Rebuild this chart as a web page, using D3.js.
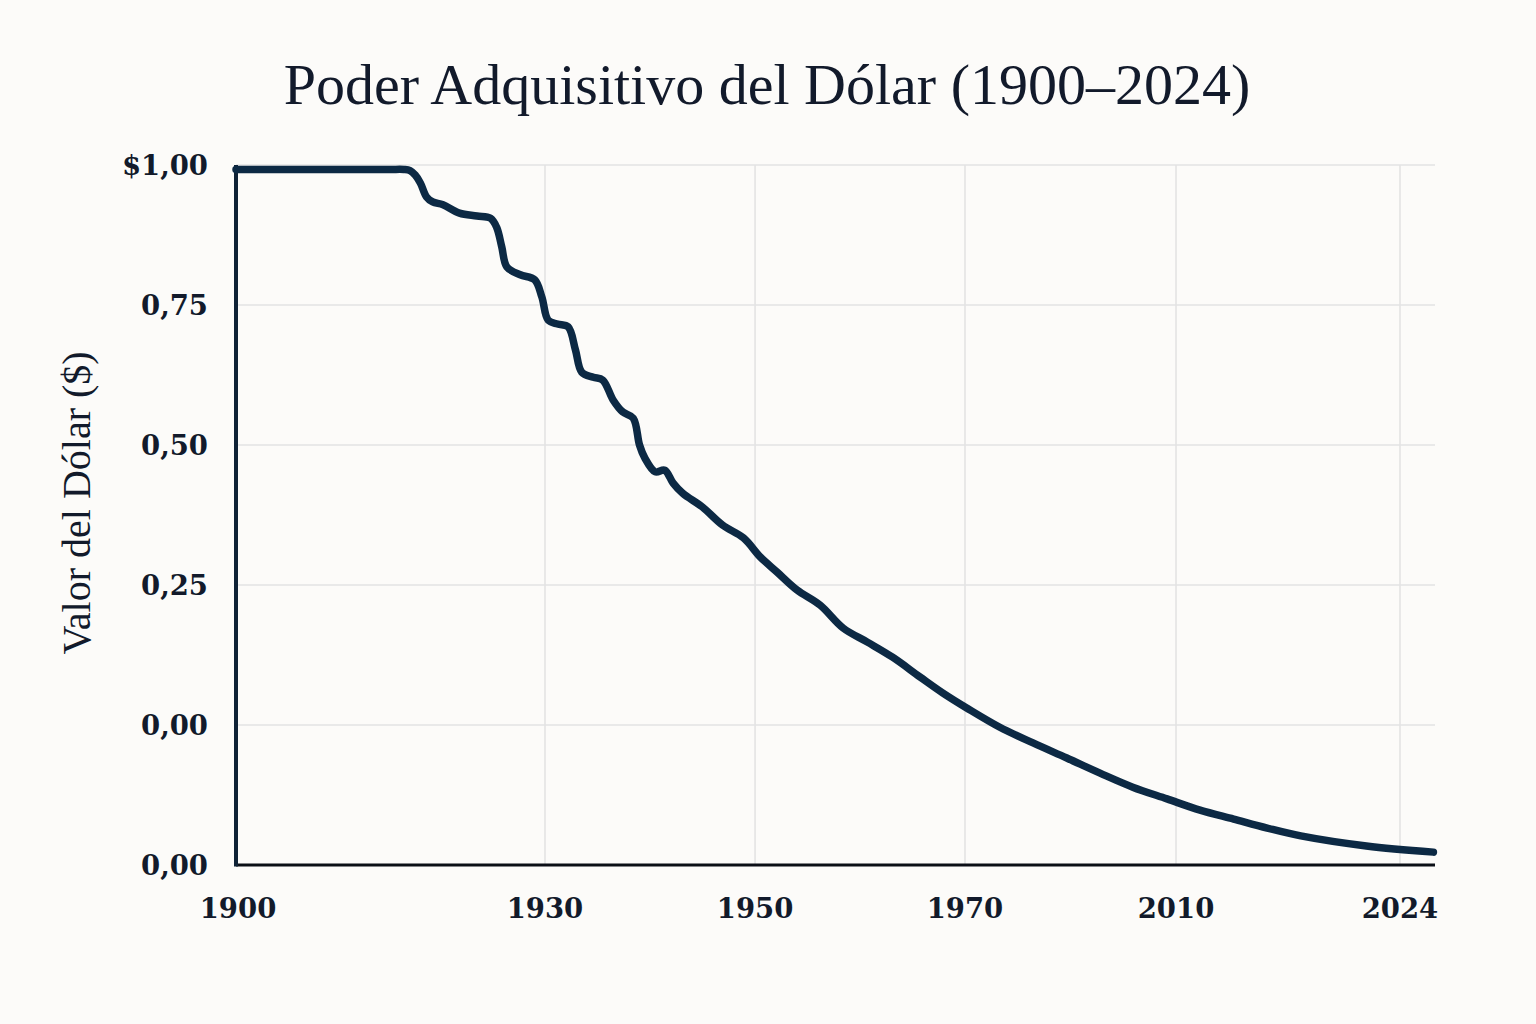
<!DOCTYPE html>
<html>
<head>
<meta charset="utf-8">
<script src="https://cdn.jsdelivr.net/npm/d3@7"></script>
<style>
  html, body { margin: 0; padding: 0; background: #fcfbf9; }
  svg { display: block; }
</style>
</head>
<body>
<div id="chart"></div>
<script>
// data (year, dollar value)
const years = [1900, 1904, 1908, 1912, 1915, 1916.3, 1916.9, 1917.4, 1917.9, 1918.5, 1919.1,
  1920.1, 1921.7, 1923.4, 1924.7,
  1925.3, 1925.8, 1926.3, 1927.6, 1929.0, 1929.7, 1930.3, 1931.2, 1932.2, 1932.9,
  1933.5, 1934.6, 1935.5, 1936.5, 1937.4, 1938.4, 1939.0, 1939.5, 1940.5, 1941.4,
  1942.2, 1943.1, 1945.0, 1946.9, 1948.9, 1950.5, 1952.1, 1954.0, 1956.2, 1958.4,
  1960.7, 1963.1, 1965.7, 1967.9, 1970.4, 1976.6, 1982.9, 1989.3, 1995.6, 2001.8,
  2008.3, 2011.5, 2013.6, 2015.7, 2017.8, 2021.9, 2026.1];
const values = [0.992, 0.992, 0.992, 0.992, 0.992, 0.992, 0.990, 0.982, 0.968, 0.943, 0.934,
  0.929, 0.914, 0.909, 0.905,
  0.889, 0.854, 0.818, 0.804, 0.795, 0.764, 0.723, 0.716, 0.711, 0.670,
  0.630, 0.621, 0.616, 0.580, 0.559, 0.548, 0.500, 0.477, 0.452, 0.455,
  0.432, 0.414, 0.389, 0.357, 0.334, 0.300, 0.273, 0.241, 0.214, 0.173,
  0.148, 0.121, 0.086, 0.057, 0.030, -0.004, -0.032, -0.059, -0.086, -0.111,
  -0.132, -0.152, -0.168, -0.184, -0.198, -0.216, -0.227];

const xTicks = [1900, 1930, 1950, 1970, 2010, 2024];
const xEnd = 2026.2;
const yTicks = [1, 0.75, 0.5, 0.25, 0, -0.25];
const yTickLabels = ["$1,00", "0,75", "0,50", "0,25", "0,00", "0,00"];

const title = "Poder Adquisitivo del Dólar (1900–2024)";
const yTitle = "Valor del Dólar ($)";

const W = 1536, H = 1024;
const margin = {top: 165, right: 101, bottom: 159, left: 236};
const width = W - margin.left - margin.right,
    height = H - margin.top - margin.bottom;

// uneven axis: ticks are not evenly spaced in years
const xFrac = [0, 0.2577, 0.4329, 0.608, 0.784, 0.9708, 1];
const x = d3.scaleLinear()
  .domain([...xTicks, xEnd])
  .range(xFrac.map(f => f * width));
const y = d3.scaleLinear().domain([-0.25, 1]).range([height, 0]);

const data = years.map((yr, i) => ({year: yr, value: values[i]}));

const svg = d3.select("#chart").append("svg")
  .attr("width", W).attr("height", H)
  .style("background", "#fcfbf9");

svg.append("text")
  .attr("x", W / 2 - 1).attr("y", 104)
  .attr("text-anchor", "middle")
  .style("font-family", "'Liberation Serif', serif")
  .style("font-size", "58px")
  .style("fill", "#121a2b")
  .text(title);

const g = svg.append("g").attr("transform", `translate(${margin.left},${margin.top})`);

// grid
g.selectAll(".hgrid").data(yTicks.filter(t => t > -0.25))
  .enter().append("line")
  .attr("x1", 0).attr("x2", width)
  .attr("y1", d => y(d)).attr("y2", d => y(d))
  .attr("stroke", "#e3e3e3").attr("stroke-width", 1.6);

g.selectAll(".vgrid").data(xTicks.slice(1))
  .enter().append("line")
  .attr("x1", d => x(d)).attr("x2", d => x(d))
  .attr("y1", 0).attr("y2", height)
  .attr("stroke", "#e3e3e3").attr("stroke-width", 1.6);

// axes lines
g.append("line")
  .attr("x1", 0).attr("x2", width).attr("y1", height).attr("y2", height)
  .attr("stroke", "#0b0f16").attr("stroke-width", 3);
g.append("line")
  .attr("x1", 0).attr("x2", 0).attr("y1", 0).attr("y2", height + 1.5)
  .attr("stroke", "#0f2236").attr("stroke-width", 4);

// tick labels
g.selectAll(".ylab").data(yTicks)
  .enter().append("text")
  .attr("x", -28).attr("y", d => y(d))
  .attr("dy", "0.36em")
  .attr("text-anchor", "end")
  .style("font-family", "'DejaVu Serif', serif")
  .style("font-weight", "bold")
  .style("font-size", "27.5px")
  .style("fill", "#121a2b")
  .text((d, i) => yTickLabels[i]);

g.selectAll(".xlab").data(xTicks)
  .enter().append("text")
  .attr("x", d => x(d) + (d === 1900 ? 2 : 0)).attr("y", height + 53)
  .attr("text-anchor", "middle")
  .style("font-family", "'DejaVu Serif', serif")
  .style("font-weight", "bold")
  .style("font-size", "27.5px")
  .style("fill", "#121a2b")
  .text(d => d);

svg.append("text")
  .attr("transform", `translate(90,${margin.top + 338}) rotate(-90)`)
  .attr("text-anchor", "middle")
  .style("font-family", "'Liberation Serif', serif")
  .style("font-size", "40px")
  .style("fill", "#121a2b")
  .text(yTitle);

// line
const line = d3.line()
  .x(d => x(d.year))
  .y(d => y(d.value))
  .curve(d3.curveCatmullRom.alpha(0.5));

g.append("path")
  .datum(data)
  .attr("d", line)
  .attr("fill", "none")
  .attr("stroke", "#0c2944")
  .attr("stroke-width", 7.5)
  .attr("stroke-linejoin", "round")
  .attr("stroke-linecap", "round");
</script>
</body>
</html>
